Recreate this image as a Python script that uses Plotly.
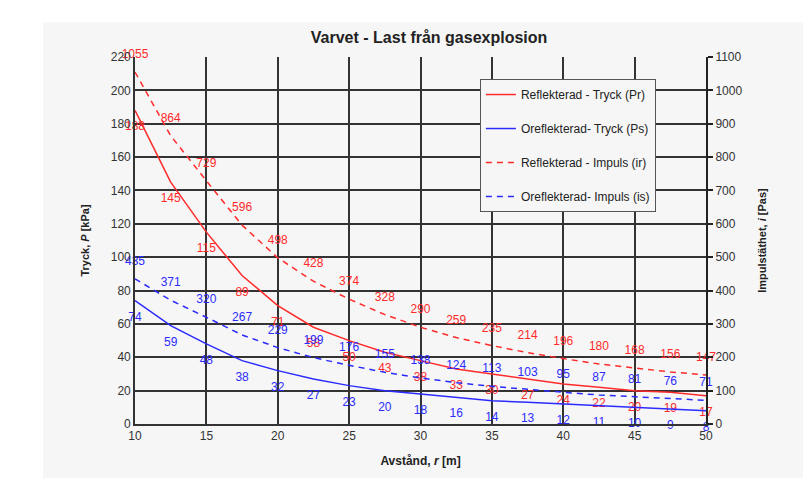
import plotly.graph_objects as go

distance = [10, 12.5, 15, 17.5, 20, 22.5, 25, 27.5, 30, 32.5, 35, 37.5, 40, 42.5, 45, 47.5, 50]
p_reflected = [188, 145, 115, 89, 71, 58, 50, 43, 38, 33, 30, 27, 24, 22, 20, 19, 17]
p_unreflected = [74, 59, 48, 38, 32, 27, 23, 20, 18, 16, 14, 13, 12, 11, 10, 9, 8]
i_reflected = [1055, 864, 729, 596, 498, 428, 374, 328, 290, 259, 235, 214, 196, 180, 168, 156, 147]
i_unreflected = [435, 371, 320, 267, 229, 199, 176, 155, 138, 124, 113, 103, 95, 87, 81, 76, 71]

RED = "#ff2b2b"
BLUE = "#2b2bff"
BG = "#f6f6f6"
GRID = "#333333"
FONT = "Liberation Sans, Arial, sans-serif"

fig = go.Figure()

def add(y, name, color, dash, yaxis, pos, group):
    fig.add_trace(go.Scatter(
        x=distance, y=y, name=name, yaxis=yaxis,
        mode="lines+markers+text",
        line=dict(color=color, width=1.5, dash=dash),
        marker=dict(size=16, color="rgba(0,0,0,0)"),
        text=[str(v) for v in y], textposition=pos,
        textfont=dict(color=color, size=12, family=FONT),
        cliponaxis=False, legendgroup=group,
    ))

add(p_reflected, "Reflekterad - Tryck (Pr)", RED, "solid", "y", "bottom center", "a")
add(p_unreflected, "Oreflekterad- Tryck (Ps)", BLUE, "solid", "y", "bottom center", "b")
add(i_reflected, "Reflekterad - Impuls (ir)", RED, "6px,5px", "y2", "top center", "c")
add(i_unreflected, "Oreflekterad- Impuls (is)", BLUE, "6px,5px", "y2", "top center", "d")

# page body has an 8px margin; plot area target: x 135..706, y 57..424
fig.update_layout(
    width=811, height=478,
    margin=dict(l=127, r=113, t=49, b=62),
    paper_bgcolor="white",
    plot_bgcolor=BG,
    font=dict(family=FONT, size=12, color="#222222"),
    title=dict(text="<b>Varvet - Last från gasexplosion</b>", x=0.515, xref="paper",
               xanchor="center", y=0.939, yanchor="middle",
               font=dict(size=16, color="#222222", family=FONT)),
    xaxis=dict(range=[10, 50], tickvals=[10, 15, 20, 25, 30, 35, 40, 45, 50],
               showgrid=True, gridcolor=GRID, gridwidth=1.6,
               showline=True, linecolor=GRID, linewidth=1.6, zeroline=False,
               ticks="", tickfont=dict(size=12, color="#333333"),
               title=dict(text="<b>Avstånd, <i>r</i> [m]</b>", font=dict(size=12), standoff=14)),
    yaxis=dict(range=[0, 220], tickvals=list(range(0, 221, 20)),
               showgrid=True, gridcolor=GRID, gridwidth=1.6,
               showline=True, linecolor=GRID, linewidth=1.6, zeroline=False,
               ticks="", tickfont=dict(size=12, color="#333333"),
               title=dict(text="<b>Tryck, <i>P</i> [kPa]</b>", font=dict(size=11), standoff=19)),
    yaxis2=dict(range=[0, 1100], tickvals=list(range(0, 1101, 100)),
                overlaying="y", side="right", showgrid=False,
                showline=True, linecolor="#222222", linewidth=2, zeroline=False,
                ticks="outside", ticklen=5, tickcolor="#222222", tickwidth=1.5,
                tickfont=dict(size=12, color="#333333"),
                title=dict(text="<b>Impulstäthet, <i>i</i> [Pas]</b>", font=dict(size=11), standoff=17)),
    legend=dict(x=0.604, y=0.94, xanchor="left", yanchor="top",
                bgcolor=BG, bordercolor="#555555", borderwidth=1,
                font=dict(size=12, color="#222222"),
                traceorder="grouped", tracegroupgap=15, itemwidth=30),
    shapes=[dict(type="rect", xref="paper", yref="paper",
                 x0=-0.161, x1=1.179, y0=-0.147, y1=1.095,
                 fillcolor=BG, line=dict(width=0), layer="below")],
)

fig.write_html("out.html")
